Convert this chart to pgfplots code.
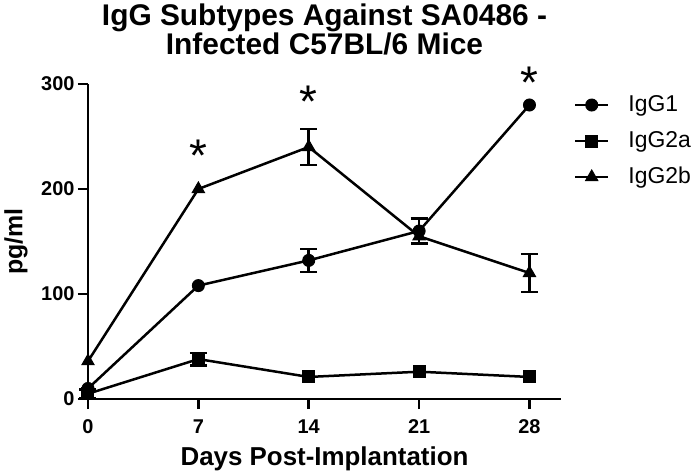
\documentclass[border=0pt]{standalone}
\usepackage{fontspec}
\setmainfont{Liberation Sans}
\usepackage{pgfplots}
\pgfplotsset{compat=1.18}

\begin{document}
\begin{tikzpicture}
\useasboundingbox (-88bp,-72bp) rectangle (612bp,399bp);
\begin{axis}[
    scale only axis, width=473bp, height=315bp,
    xmin=0, xmax=30, ymin=0, ymax=300,
    axis x line*=bottom, axis y line*=left,
    axis line style={line width=2.5bp},
    xtick={0,7,14,21,28}, ytick={0,100,200,300},
    tick align=outside, major tick length=10bp,
    tick style={line width=2.5bp, black},
    /pgf/number format/assume math mode=true,
    ticklabel style={font=\fontsize{20}{20}\selectfont\bfseries},
    xticklabel style={yshift=-7bp},
    xlabel={Days Post-Implantation},
    xlabel style={at={(axis description cs:0.5,0)}, anchor=base, yshift=-66bp,
                  font=\fontsize{26}{26}\selectfont\bfseries},
    ylabel={pg/ml},
    ylabel style={at={([xshift=-72bp]axis description cs:0,0.5)}, anchor=center,
                  font=\fontsize{25}{25}\selectfont\bfseries},
    clip=false,
    every axis plot/.append style={line width=2.5bp, black},
    error bars/error bar style={line width=2.5bp},
    error bars/error mark options={rotate=90, mark size=8.5bp, line width=2.5bp},
    legend image code/.code={\draw[mark repeat=2,mark phase=2,#1]
        plot coordinates {(0bp,0bp)(16.5bp,0bp)(33bp,0bp)};},
    legend style={at={(axis description cs:1.027,0.972)}, anchor=north west,
                  draw=none, fill=none, inner sep=0pt,
                  font=\fontsize{23}{27}\selectfont,
                  nodes={inner sep=1bp, text height=17bp, text depth=5bp},
                  row sep=12bp},
    legend cell align=left,
    /tikz/every odd column/.append style={column sep=18bp},
]
% IgG1
\addplot[mark=*, mark options={solid, fill=black, line width=1bp}, mark size=6bp]
  coordinates {(0,10) (7,108) (14,132) (21,160) (28,280)};
\addlegendentry{IgG1}
% IgG2a
\addplot[mark=square*, mark options={solid, fill=black, line width=1bp}, mark size=6bp]
  coordinates {(0,5) (7,38) (14,21) (21,26) (28,21)};
\addlegendentry{IgG2a}
% IgG2b
\addplot[mark=triangle*, mark options={solid, fill=black, line width=1bp}, mark size=7bp]
  coordinates {(0,36) (7,200) (14,240) (21,155) (28,120)};
\addlegendentry{IgG2b}
% error bars (SEM) where they are visible
\addplot[draw=none, mark=none, forget plot, error bars/.cd, y dir=both, y explicit]
  coordinates {(14,132) +- (0,11) (21,160) +- (0,12)};
\addplot[draw=none, mark=none, forget plot, error bars/.cd, y dir=both, y explicit]
  coordinates {(0,5) +- (0,4) (7,38) +- (0,6)};
\addplot[draw=none, mark=none, forget plot, error bars/.cd, y dir=both, y explicit]
  coordinates {(14,240) +- (0,17) (28,120) +- (0,18)};
% significance stars
\node[anchor=base, inner sep=0pt, font=\fontsize{46}{46}\selectfont] at (axis cs:7,217) {*};
\node[anchor=base, inner sep=0pt, font=\fontsize{46}{46}\selectfont] at (axis cs:14,268) {*};
\node[anchor=base, inner sep=0pt, font=\fontsize{46}{46}\selectfont] at (axis cs:28,286) {*};
\end{axis}
\node[anchor=base, font=\fontsize{30}{30}\selectfont\bfseries] at (236.5bp,373bp) {IgG Subtypes Against SA0486 -};
\node[anchor=base, font=\fontsize{30}{30}\selectfont\bfseries] at (236.5bp,344bp) {Infected C57BL/6 Mice};
\end{tikzpicture}
\end{document}
